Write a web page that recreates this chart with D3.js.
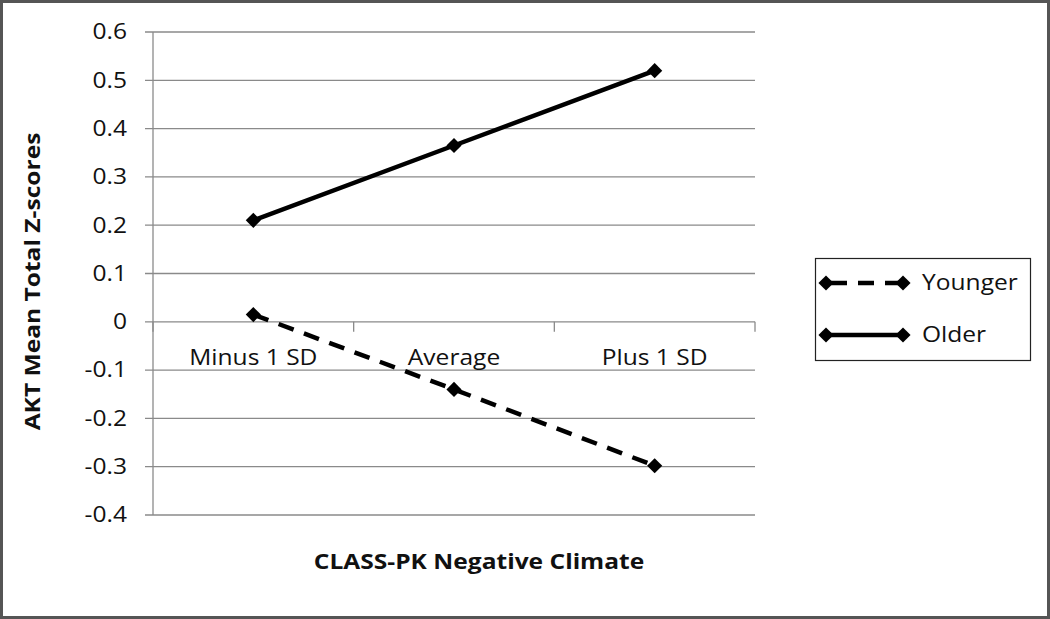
<!DOCTYPE html>
<html><head><meta charset="utf-8">
<script src="https://cdn.jsdelivr.net/npm/d3@7"></script>
<style>body{margin:0;background:#fff}svg{display:block}</style>
</head><body>
<svg id="c" width="1050" height="619"></svg>
<script>
const categories = ["Minus 1 SD", "Average", "Plus 1 SD"];
const younger = [0.015, -0.14, -0.298];
const older = [0.21, 0.365, 0.52];
const seriesNames = ["Younger", "Older"];
const yTicks = [-0.4, -0.3, -0.2, -0.1, 0, 0.1, 0.2, 0.3, 0.4, 0.5, 0.6];
const yTitle = "AKT Mean Total Z-scores";
const xTitle = "CLASS-PK Negative Climate";

const font = "'Open Sans', sans-serif";
const fs = 21;
const sx = 1.17;
const svg = d3.select("#c");
svg.append("rect").attr("x",1.5).attr("y",1.5).attr("width",1047).attr("height",616)
  .attr("fill","#fff").attr("stroke","#555").attr("stroke-width",3);

const L=153, R=755, T=32, B=515;
const x = d3.scaleBand().domain(categories).range([L,R]);
const y = d3.scaleLinear().domain([-0.4,0.6]).range([B,T]);
const grid = "#8a8a8a";

function txt(parent, px, py, s, anchor, bold, rot){
  return parent.append("text")
    .attr("transform",`translate(${px},${py})${rot?" rotate(-90)":""} scale(${sx},1)`)
    .attr("text-anchor",anchor).attr("dy","0.35em")
    .attr("font-family",font).attr("font-size",fs).attr("font-weight",bold?"bold":"normal")
    .attr("fill","#111").text(s);
}

const g = svg.append("g");
g.selectAll("line.grid").data(yTicks).join("line")
  .attr("x1",L-8).attr("x2",R).attr("y1",d=>y(d)).attr("y2",d=>y(d))
  .attr("stroke",grid).attr("stroke-width",1.3);
g.append("line").attr("x1",L).attr("x2",L).attr("y1",T).attr("y2",B).attr("stroke",grid).attr("stroke-width",1.3);
yTicks.forEach(d=>txt(g,127,y(d),d===0?"0":d3.format(".1f")(d).replace("\u2212","-"),"end"));

const y0 = y(0);
const xb = [L, ...categories.map(c=>x(c)+x.bandwidth())];
g.selectAll("line.xt").data(xb).join("line")
  .attr("x1",d=>d).attr("x2",d=>d).attr("y1",y0).attr("y2",y0+10)
  .attr("stroke",grid).attr("stroke-width",1.3);
categories.forEach(c=>txt(g,x(c)+x.bandwidth()/2,y0+36,c,"middle"));

txt(svg,33,(T+B)/2+8,yTitle,"middle",true,true);
txt(svg,(L+R)/2+25,562,xTitle,"middle",true);

const line = d3.line().x((d,i)=>x(categories[i])+x.bandwidth()/2).y(d=>y(d));
const diamondPath = d3.symbol().type(d3.symbolSquare).size(115)();
function drawSeries(vals, dashed){
  svg.append("path").datum(vals).attr("d",line).attr("fill","none").attr("stroke","#000")
    .attr("stroke-width",4.5).attr("stroke-dasharray",dashed?"16,11":null);
  svg.selectAll(null).data(vals).join("path")
    .attr("d",diamondPath)
    .attr("transform",(d,i)=>`translate(${x(categories[i])+x.bandwidth()/2},${y(d)}) rotate(45)`)
    .attr("fill","#000");
}
drawSeries(older,false);
drawSeries(younger,true);

const lg = svg.append("g");
lg.append("rect").attr("x",815.5).attr("y",258.5).attr("width",215).attr("height",102)
  .attr("fill","#fff").attr("stroke","#222").attr("stroke-width",1.2);
seriesNames.forEach((n,i)=>{
  const ly = 283 + i*52;
  lg.append("line").attr("x1",826).attr("x2",903).attr("y1",ly).attr("y2",ly)
    .attr("stroke","#000").attr("stroke-width",4.5).attr("stroke-dasharray",i===0?"16,11":null)
    .attr("stroke-dashoffset",i===0?-5:0);
  [826,903].forEach(px=>lg.append("path").attr("d",diamondPath)
    .attr("transform",`translate(${px},${ly}) rotate(45)`).attr("fill","#000"));
  txt(lg,922,ly,n,"start");
});
</script>
</body></html>
